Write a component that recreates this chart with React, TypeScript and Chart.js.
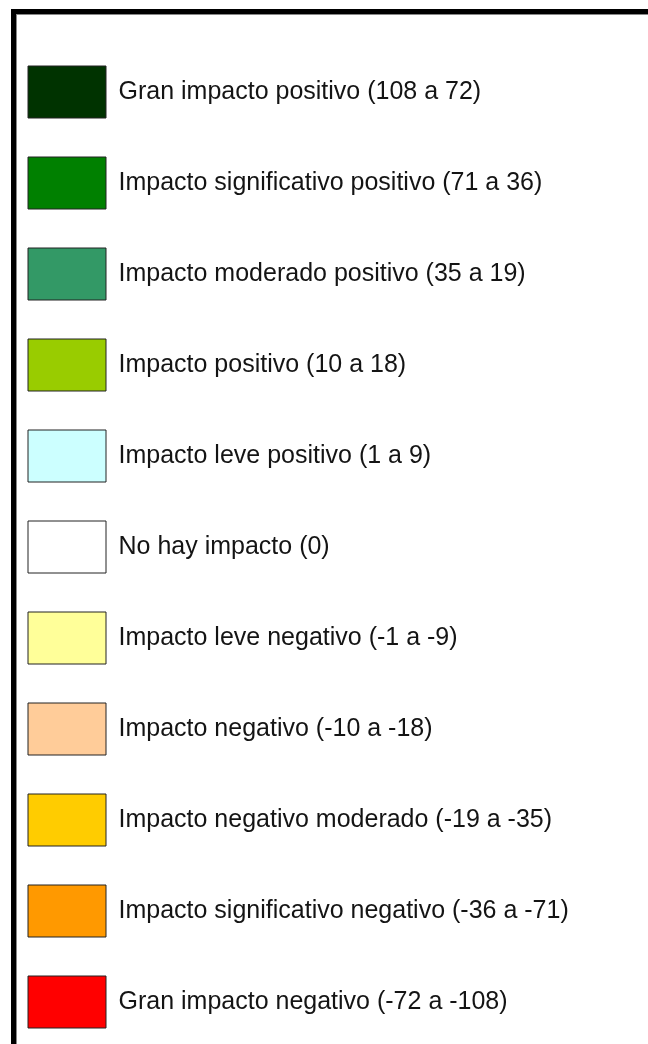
import React, { useEffect, useRef } from "react";
import { Chart, registerables } from "chart.js";

Chart.register(...registerables);

const categories = [
  "Gran impacto positivo",
  "Impacto significativo positivo",
  "Impacto moderado positivo",
  "Impacto positivo",
  "Impacto leve positivo",
  "No hay impacto",
  "Impacto leve negativo",
  "Impacto negativo",
  "Impacto negativo moderado",
  "Impacto significativo negativo",
  "Gran impacto negativo",
];

const ranges = [
  "(108 a 72)",
  "(71 a 36)",
  "(35 a 19)",
  "(10 a 18)",
  "(1 a 9)",
  "(0)",
  "(-1 a -9)",
  "(-10 a -18)",
  "(-19 a -35)",
  "(-36 a -71)",
  "(-72 a -108)",
];

const colors = [
  "#003300",
  "#008000",
  "#339966",
  "#99CC00",
  "#CCFFFF",
  "#FFFFFF",
  "#FFFF99",
  "#FFCC99",
  "#FFCC00",
  "#FF9900",
  "#FF0000",
];

export default function App() {
  const canvasRef = useRef<HTMLCanvasElement | null>(null);

  useEffect(() => {
    if (!canvasRef.current) return;
    const chart = new Chart(canvasRef.current, {
      type: "bar",
      data: {
        labels: [],
        datasets: categories.map((c, i) => ({
          label: `${c} ${ranges[i]}`,
          data: [],
          backgroundColor: colors[i],
          borderColor: "#222222",
          borderWidth: 1,
        })),
      },
      options: {
        animation: false,
        responsive: false,
        maintainAspectRatio: false,
        layout: { padding: 0 },
        scales: {
          x: { display: false },
          y: { display: false },
        },
        plugins: {
          tooltip: { enabled: false },
          legend: {
            display: true,
            position: "top",
            align: "start",
            labels: {
              boxWidth: 78,
              boxHeight: 52,
              padding: 39,
              color: "#141414",
              font: { family: "'Liberation Sans', Arial, sans-serif", size: 25 },
            },
          },
        },
      },
    });
    return () => chart.destroy();
  }, []);

  return (
    <div
      style={{
        position: "absolute",
        left: 0,
        top: 0,
        width: 648,
        height: 1044,
        overflow: "hidden",
        background: "#ffffff",
      }}
    >
      <div
        style={{
          position: "absolute",
          left: 11,
          top: 9,
          width: 700,
          height: 1100,
          borderLeft: "5px solid #000",
          borderTop: "5px solid #000",
          boxShadow: "inset 1px 1px 0 #888",
        }}
      />
      <canvas
        ref={canvasRef}
        width={670}
        height={2300}
        style={{ position: "absolute", left: -11, top: 27 }}
      />
    </div>
  );
}
